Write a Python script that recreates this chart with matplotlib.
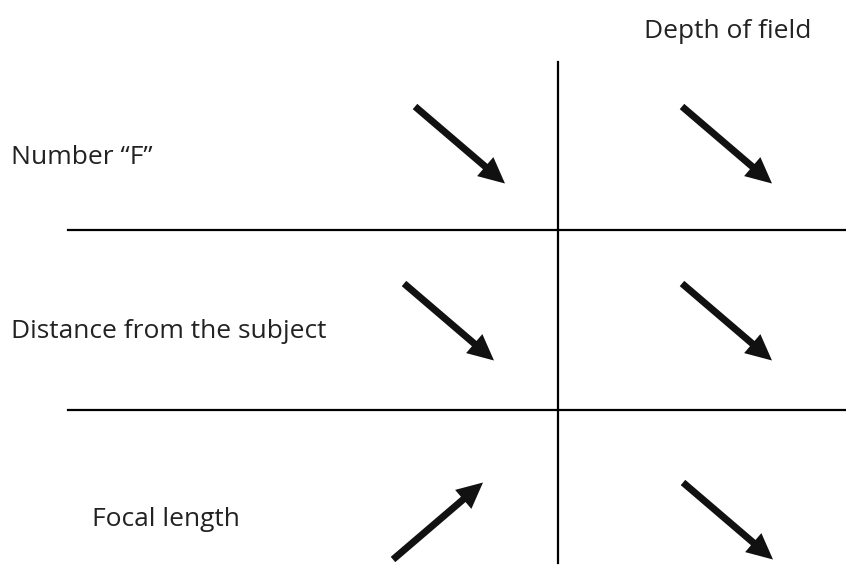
import matplotlib.pyplot as plt
from matplotlib.patches import FancyArrow

# row labels and the trend of each quantity (+1 rising arrow, -1 falling arrow)
row_labels = ["Number \u201cF\u201d", "Distance from the subject", "Focal length"]
cause_trend = [-1, -1, 1]
effect_trend = [-1, -1, -1]
column_title = "Depth of field"

fig = plt.figure(figsize=(8.46, 5.75), dpi=100)
ax = fig.add_axes([0, 0, 1, 1])
ax.set_xlim(0, 846)
ax.set_ylim(575, 0)
ax.axis("off")

# layout in pixel space
row_y = [145, 322, 521]
label_x = [11, 11, 92]
label_y = [158, 331, 519]
left_x = [460, 449, 438]
right_x = [727, 727, 728]
dx, dy = 90, 77

ax.plot([558, 558], [62, 563], color="black", lw=1.6)
for y in [230, 410]:
    ax.plot([68, 846], [y, y], color="black", lw=1.6)

ax.text(728, 32, column_title, ha="center", va="center", fontsize=19,
        family="Open Sans", color="#222222")
for i, lab in enumerate(row_labels):
    ax.text(label_x[i], label_y[i], lab, ha="left", va="center", fontsize=19,
            family="Open Sans", color="#222222")


def arrow(cx, cy, trend):
    x0 = cx - dx / 2
    if trend < 0:
        y0, sy = cy - dy / 2, dy
    else:
        y0, sy = cy + dy / 2, -dy
    ax.add_patch(FancyArrow(x0, y0, dx, sy, width=7, head_width=25,
                            head_length=26, length_includes_head=True,
                            color="#111111", lw=0))


for i in range(len(row_labels)):
    arrow(left_x[i], row_y[i], cause_trend[i])
    arrow(right_x[i], row_y[i], effect_trend[i])

plt.savefig("out.png", dpi=100)
